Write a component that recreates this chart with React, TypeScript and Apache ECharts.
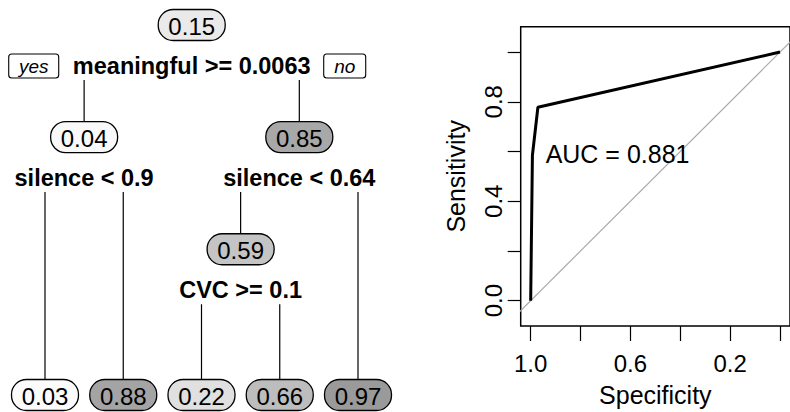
import React, { useEffect, useRef } from "react";
import * as echarts from "echarts";

// ---- Decision tree (rpart numbering: children of n are 2n and 2n+1) ----
const nodeNumbers = [1, 2, 3, 4, 5, 6, 7, 12, 13];
const nodeValues = [0.15, 0.04, 0.85, 0.03, 0.88, 0.59, 0.97, 0.22, 0.66];
const splitLabels = [
  "meaningful >= 0.0063",
  "silence < 0.9",
  "silence < 0.64",
  "",
  "",
  "CVC >= 0.1",
  "",
  "",
  "",
];
const branchLabels = ["yes", "no"];

// ---- ROC curve ----
const rocSpecificity = [1.0, 0.993, 0.971, 0.0];
const rocSensitivity = [0.0, 0.585, 0.778, 1.0];
const chanceSpecificity = [1.3, -0.3];
const chanceSensitivity = [-0.3, 1.3];
const aucLabel = "AUC = 0.881";
const aucPosition = [0.94, 0.59];
const xTicks = [0, 0.2, 0.4, 0.6, 0.8, 1.0];
const xTickLabels = [0.2, 0.6, 1.0];
const yTicks = [0, 0.2, 0.4, 0.6, 0.8, 1.0];
const yTickLabels = [0, 0.4, 0.8];

const FONT = '"Liberation Sans", Arial, Helvetica, sans-serif';
const FALLEN_LEVEL = 3.3;

type TreeNode = { num: number; value: number; split: string; x: number; depth: number; children: number[] };

function buildTree(): TreeNode[] {
  const set = new Set(nodeNumbers);
  const map = new Map<number, TreeNode>();
  nodeNumbers.forEach((n, i) => {
    map.set(n, { num: n, value: nodeValues[i], split: splitLabels[i], x: 0, depth: 0, children: [] });
  });
  let leafIdx = 0;
  const walk = (n: number, d: number): number => {
    const node = map.get(n)!;
    const l = 2 * n, r = 2 * n + 1;
    if (set.has(l) && set.has(r)) {
      node.children = [l, r];
      const xl = walk(l, d + 1);
      const xr = walk(r, d + 1);
      node.x = (xl + xr) / 2;
      node.depth = d;
    } else {
      node.x = leafIdx++;
      node.depth = FALLEN_LEVEL;
    }
    return node.x;
  };
  walk(1, 0);
  return nodeNumbers.map((n) => map.get(n)!);
}

export default function App() {
  const ref = useRef<HTMLDivElement>(null);
  useEffect(() => {
    if (!ref.current) return;
    const chart = echarts.init(ref.current, null, { renderer: "svg" });
    const tree = buildTree();
    const byNum = new Map(tree.map((t) => [t.num, t]));

    const BW = 67, BH = 31;
    const renderNode = (params: any, api: any) => {
      const node = tree[params.dataIndex];
      const [px, py] = api.coord([api.value(0), api.value(1)]);
      const children: any[] = [];
      children.push({
        type: "rect",
        shape: { x: px - BW / 2, y: py - BH / 2, width: BW, height: BH, r: 15 },
        style: { fill: api.visual("color"), stroke: "#000", lineWidth: 1.3 },
      });
      children.push({
        type: "text",
        style: {
          text: node.value.toFixed(2), x: px, y: py + 1, align: "center", verticalAlign: "middle",
          fontSize: 24, fontFamily: FONT, fill: "#000",
        },
      });
      if (node.split) {
        children.push({
          type: "text",
          style: {
            text: node.split, x: px, y: py + 41, align: "center", verticalAlign: "middle",
            fontSize: 23.5, fontWeight: "bold", fontFamily: FONT, fill: "#000",
          },
        });
        node.children.forEach((c) => {
          const ch = byNum.get(c)!;
          const [cx, cy] = api.coord([ch.x, ch.depth]);
          children.push({
            type: "line",
            shape: { x1: cx, y1: py + 55, x2: cx, y2: cy - BH / 2 },
            style: { stroke: "#000", lineWidth: 1.2 },
          });
        });
      }
      if (node.num === 1) {
        const boxes = [
          { t: branchLabels[0], cx: px - 158, w: 50 },
          { t: branchLabels[1], cx: px + 153, w: 42 },
        ];
        boxes.forEach((b) => {
          children.push({
            type: "rect",
            shape: { x: b.cx - b.w / 2, y: py + 29, width: b.w, height: 24, r: 3 },
            style: { fill: "#fff", stroke: "#000", lineWidth: 1.1 },
          });
          children.push({
            type: "text",
            style: {
              text: b.t, x: b.cx, y: py + 41, align: "center", verticalAlign: "middle",
              fontSize: 19, fontStyle: "italic", fontFamily: FONT, fill: "#000",
            },
          });
        });
      }
      return { type: "group", children };
    };

    const option: any = {
      animation: false,
      textStyle: { fontFamily: FONT },
      grid: [
        { left: 45, top: 25, width: 313, height: 370, show: false },
        {
          left: 520.7, top: 26.7, width: 274.3, height: 305, show: true,
          borderColor: "#000", borderWidth: 1.5, backgroundColor: "transparent",
        },
      ],
      visualMap: {
        show: false, type: "continuous", seriesIndex: 0, dimension: 2, min: 0, max: 1,
        inRange: { color: ["#ffffff", "#dcdcdc", "#cdcdcd", "#b4b4b4", "#969696"] },
      },
      xAxis: [
        { gridIndex: 0, type: "value", min: 0, max: 4, show: false },
        {
          gridIndex: 1, type: "value", inverse: true, min: -0.04, max: 1.04, position: "bottom",
          splitLine: { show: false }, axisLine: { show: false, onZero: false },
          axisTick: { show: true, length: 15, inside: false, lineStyle: { color: "#000", width: 1.2 }, customValues: xTicks },
          axisLabel: {
            customValues: xTickLabels, formatter: (v: number) => v.toFixed(1),
            fontSize: 24, color: "#000", margin: 25, fontFamily: FONT,
          },
          name: "Specificity", nameLocation: "middle", nameGap: 56,
          nameTextStyle: { fontSize: 25, color: "#000", fontFamily: FONT },
        },
      ],
      yAxis: [
        { gridIndex: 0, type: "value", min: 0, max: FALLEN_LEVEL, inverse: true, show: false },
        {
          gridIndex: 1, type: "value", min: -0.102, max: 1.102, position: "left",
          splitLine: { show: false }, axisLine: { show: false, onZero: false },
          axisTick: { show: true, length: 13, lineStyle: { color: "#000", width: 1.2 }, customValues: yTicks },
          axisLabel: {
            customValues: yTickLabels, formatter: (v: number) => v.toFixed(1), rotate: 90,
            fontSize: 24, color: "#000", margin: 15, fontFamily: FONT,
          },
          name: "Sensitivity", nameLocation: "middle", nameGap: 52,
          nameTextStyle: { fontSize: 25, color: "#000", fontFamily: FONT },
        },
      ],
      series: [
        {
          type: "custom", xAxisIndex: 0, yAxisIndex: 0, clip: false,
          data: tree.map((t) => [t.x, t.depth, t.value]),
          renderItem: renderNode,
        },
        {
          type: "line", xAxisIndex: 1, yAxisIndex: 1, showSymbol: false, symbol: "none", clip: true,
          data: chanceSpecificity.map((s, i) => [s, chanceSensitivity[i]]),
          lineStyle: { color: "#aaaaaa", width: 1.2 },
        },
        {
          type: "line", xAxisIndex: 1, yAxisIndex: 1, showSymbol: false, symbol: "none", clip: true,
          data: rocSpecificity.map((s, i) => [s, rocSensitivity[i]]),
          lineStyle: { color: "#000", width: 3 },
          markPoint: {
            symbol: "circle", symbolSize: 0,
            data: [{ coord: aucPosition, value: aucLabel }],
            label: {
              show: true, formatter: aucLabel, position: "right", distance: 0,
              fontSize: 25, color: "#000", fontFamily: FONT,
            },
          },
        },
      ],
    };
    chart.setOption(option);
    return () => chart.dispose();
  }, []);
  return <div ref={ref} style={{ position: "absolute", left: 0, top: 0, width: 790, height: 412 }} />;
}
